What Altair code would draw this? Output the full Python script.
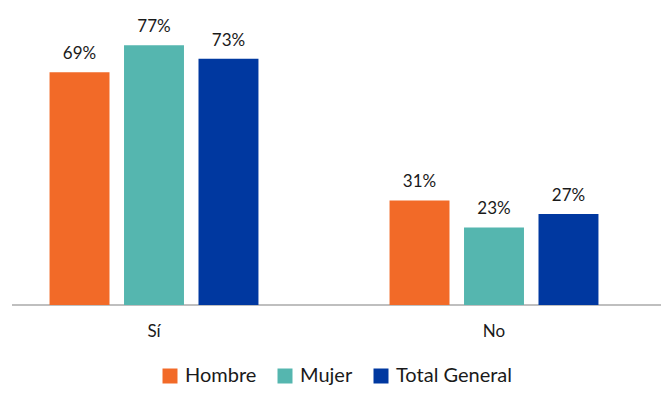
import altair as alt
import pandas as pd

categories = ["Sí", "No"]
series = ["Hombre", "Mujer", "Total General"]
values_si = [69, 77, 73]
values_no = [31, 23, 27]
colors = ["#F26A28", "#55B6AF", "#0038A0"]

rows = []
for s, v in zip(series, values_si):
    rows.append({"cat": "Sí", "serie": s, "val": v, "label": f"{v}%"})
for s, v in zip(series, values_no):
    rows.append({"cat": "No", "serie": s, "val": v, "label": f"{v}%"})
df = pd.DataFrame(rows)

W, H = 649, 270
FONT = "Lato"

x = alt.X("cat:N", sort=categories, title=None,
          scale=alt.Scale(range=[-28, 652], paddingInner=0, paddingOuter=0),
          axis=alt.Axis(domain=False, ticks=False, labelAngle=0, labelFontSize=17,
                        labelFont=FONT, labelColor="#1a1a1a", labelPadding=18))
xo = alt.XOffset("serie:N", sort=series,
                 scale=alt.Scale(paddingInner=0.195, paddingOuter=0.88))
y = alt.Y("val:Q", scale=alt.Scale(domain=[0, 80]), axis=None)

bars = alt.Chart(df).mark_bar(clip=False).encode(
    x=x, xOffset=xo, y=y,
    color=alt.Color("serie:N", sort=series,
                    scale=alt.Scale(domain=series, range=colors),
                    legend=alt.Legend(title=None, orient="none", direction="horizontal",
                                      legendX=148, legendY=331,
                                      symbolType="square", symbolSize=225,
                                      symbolStrokeWidth=0, symbolOpacity=1,
                                      labelFontSize=20, labelFont=FONT,
                                      labelColor="#1a1a1a", columnPadding=18,
                                      labelOffset=5))
)

text = alt.Chart(df).mark_text(baseline="bottom", dy=-9, fontSize=17, font=FONT,
                               color="#1a1a1a").encode(
    x=x, xOffset=xo, y=y, text="label:N"
)

rule = alt.Chart(df).mark_rule(color="#BFBFBF", strokeWidth=1.5).encode(
    x=alt.value(0), x2=alt.value(W), y=alt.value(H)
)

chart = alt.layer(rule, bars, text).properties(
    width=W, height=H,
    autosize=alt.AutoSizeParams(type="none"),
    padding={"left": 4, "top": 27, "right": 0, "bottom": 84},
).configure_view(stroke=None)

chart.save("out.html", embed_options={"renderer": "svg", "actions": False})
